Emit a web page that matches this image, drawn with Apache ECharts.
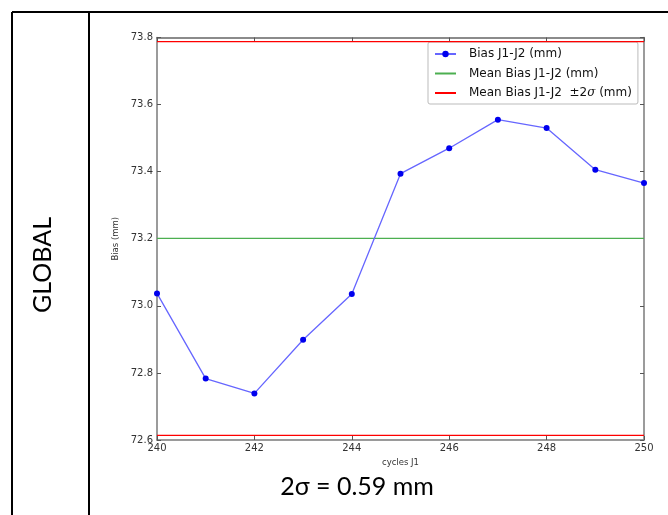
<!DOCTYPE html>
<html>
<head>
<meta charset="utf-8">
<script src="https://cdn.jsdelivr.net/npm/echarts@6/dist/echarts.min.js"></script>
<style>
html,body{margin:0;padding:0;background:#fff;}
#chart{width:668px;height:515px;}
</style>
</head>
<body>
<div id="chart"></div>
<script>
// ---- data ----
var cycles = [240, 241, 242, 243, 244, 245, 246, 247, 248, 249, 250];
var bias = [73.037, 72.783, 72.739, 72.899, 73.035, 73.394, 73.470, 73.555, 73.530, 73.406, 73.366];
var meanBias = 73.201;
var twoSigma = 0.587;
var yTicks = [72.6, 72.8, 73.0, 73.2, 73.4, 73.6, 73.8];
var xTicks = [240, 242, 244, 246, 248, 250];
var seriesNames = ['Bias J1-J2 (mm)', 'Mean Bias J1-J2 (mm)', 'Mean Bias J1-J2  ±2σ (mm)'];
var rowLabel = 'GLOBAL';
var footLabel = '2σ = 0.59 mm';

var xMin = xTicks[0], xMax = xTicks[xTicks.length - 1];
var biasData = cycles.map(function (c, i) { return [c, bias[i]]; });
var meanData = [[xMin, meanBias], [xMax, meanBias]];
var upData = [[xMin, meanBias + twoSigma], [xMax, meanBias + twoSigma]];
var loData = [[xMin, meanBias - twoSigma], [xMax, meanBias - twoSigma]];

var chart = echarts.init(document.getElementById('chart'), null, {renderer: 'canvas'});
var tickFont = {fontFamily: 'DejaVu Sans', fontSize: 10, color: '#333'};
var axisLineStyle = {color: '#7a7a7a', width: 1.5};

var option = {
  backgroundColor: '#fff',
  animation: false,
  grid: {left: 157, right: 24, top: 37.5, bottom: 75, containLabel: false},
  legend: {
    orient: 'vertical',
    left: 428, top: 42,
    data: [
      {name: seriesNames[0]},
      {name: seriesNames[1], itemStyle: {opacity: 0}},
      {name: seriesNames[2], itemStyle: {opacity: 0}}
    ],
    itemWidth: 21, itemHeight: 8, itemGap: 7.5,
    padding: [6, 6, 5, 6],
    borderColor: '#bbb', borderWidth: 1, borderRadius: 2,
    backgroundColor: '#fff',
    formatter: function (name) {
      if (name === seriesNames[2]) return 'Mean Bias J1-J2  ±2{i|σ} (mm)';
      return name;
    },
    textStyle: {fontFamily: 'DejaVu Sans', fontSize: 12, color: '#111', padding: [0, 0, 0, 8],
      rich: {i: {fontFamily: 'DejaVu Serif', fontStyle: 'italic', fontSize: 12, color: '#111'}}}
  },
  xAxis: [{
    type: 'value', min: xMin, max: xMax, interval: 2,
    name: 'cycles J1', nameLocation: 'middle', nameGap: 18,
    nameTextStyle: {fontFamily: 'DejaVu Sans', fontSize: 8.5, color: '#333'},
    axisLine: {show: true, lineStyle: axisLineStyle},
    axisTick: {show: true, inside: true, length: 4, lineStyle: {color: '#555'}},
    axisLabel: Object.assign({margin: 3, formatter: function (v) { return String(v); }}, tickFont),
    splitLine: {show: false}
  }, {
    type: 'value', min: xMin, max: xMax, interval: 2, position: 'top',
    axisLine: {show: true, lineStyle: {color: '#666', width: 1.5}},
    axisTick: {show: true, inside: true, length: 4, lineStyle: {color: '#555'}},
    axisLabel: {show: false}, splitLine: {show: false}
  }],
  yAxis: [{
    type: 'value', min: yTicks[0], max: yTicks[yTicks.length - 1], interval: 0.2,
    name: 'Bias (mm)', nameLocation: 'middle', nameGap: 26, nameRotate: 90,
    nameTextStyle: {fontFamily: 'DejaVu Sans', fontSize: 8.5, color: '#333'},
    axisLine: {show: true, lineStyle: axisLineStyle},
    axisTick: {show: true, inside: true, length: 4, lineStyle: {color: '#555'}},
    axisLabel: Object.assign({margin: 4, formatter: function (v) { return v.toFixed(1); }}, tickFont),
    splitLine: {show: false}
  }, {
    type: 'value', min: yTicks[0], max: yTicks[yTicks.length - 1], interval: 0.2, position: 'right',
    axisLine: {show: true, lineStyle: axisLineStyle},
    axisTick: {show: true, inside: true, length: 4, lineStyle: {color: '#555'}},
    axisLabel: {show: false}, splitLine: {show: false}
  }],
  series: [
    {
      name: seriesNames[1], type: 'line', data: meanData, showSymbol: false, symbol: 'none',
      lineStyle: {color: '#4caf50', width: 1.2}, itemStyle: {color: '#4caf50'}, z: 2
    },
    {
      name: seriesNames[2], type: 'line', data: upData, showSymbol: false, symbol: 'none',
      lineStyle: {color: '#ff0000', width: 1.3}, itemStyle: {color: '#ff0000'}, z: 4
    },
    {
      name: seriesNames[2], type: 'line', data: loData, showSymbol: false, symbol: 'none',
      lineStyle: {color: '#ff0000', width: 1.3}, itemStyle: {color: '#ff0000'}, z: 4
    },
    {
      name: seriesNames[0], type: 'line', data: biasData,
      symbol: 'circle', symbolSize: 6, showSymbol: true,
      lineStyle: {color: '#6666ff', width: 1.3},
      itemStyle: {color: '#0000ee', borderWidth: 0}, z: 3
    }
  ],
  graphic: [
    {type: 'line', shape: {x1: 12, y1: 12, x2: 668, y2: 12}, style: {stroke: '#000', lineWidth: 2}},
    {type: 'line', shape: {x1: 12, y1: 12, x2: 12, y2: 515}, style: {stroke: '#000', lineWidth: 2}},
    {type: 'line', shape: {x1: 89, y1: 12, x2: 89, y2: 515}, style: {stroke: '#000', lineWidth: 2}},
    {type: 'text', x: 43, y: 265, rotation: Math.PI / 2,
      style: {text: rowLabel, fontFamily: 'Lato', fontSize: 25, fill: '#000', align: 'center', verticalAlign: 'middle'}},
    {type: 'text', x: 357, y: 487,
      style: {text: footLabel, fontFamily: 'Lato', fontSize: 25, fill: '#000', align: 'center', verticalAlign: 'middle'}}
  ]
};
chart.setOption(option);
</script>
</body>
</html>
